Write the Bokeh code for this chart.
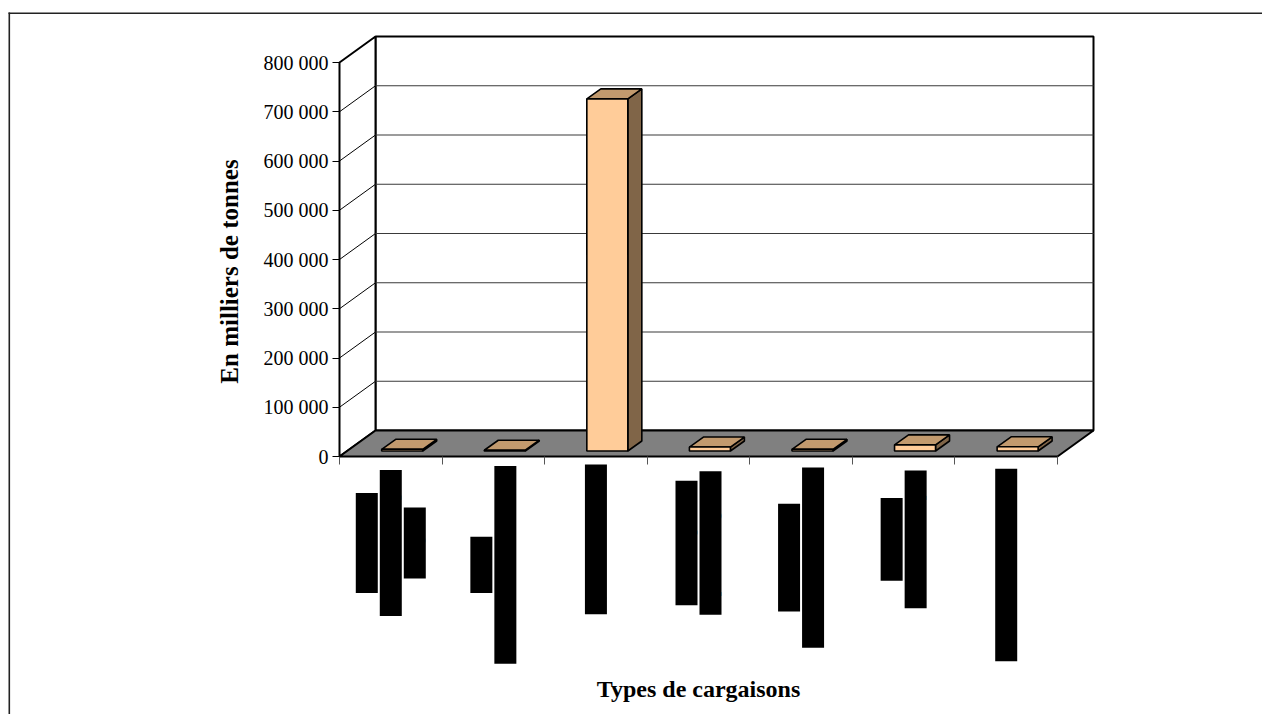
import math
from bokeh.plotting import figure
from bokeh.models import Range1d, LinearAxis, FixedTicker, Label, ColumnDataSource
from bokeh.core.properties import value
from bokeh.embed import file_html
from bokeh.resources import INLINE

# ---------------- data ----------------
categories = [
    ["Produits de la", "industries chimiques", "et engrais"],
    ["Colis et", "marchandises en conteneurs"],
    ["Hydrocarbures bruts"],
    ["Denrées agricoles", "et produits végétaux"],
    ["Automobiles et", "équipements de transport"],
    ["Minerais et", "déchets métalliques"],
    ["Matériaux de constructions"],
]
tonnage = [3500, 1500, 715000, 8000, 3500, 12500, 8500]
y_ticks = [0, 100000, 200000, 300000, 400000, 500000, 600000, 700000, 800000]
y_title = "En milliers de tonnes"
x_title = "Types de cargaisons"

# ---------------- layout constants (page pixels) ----------------
W, H = 1262, 714
PAGE_OFF = 0
X0_PAGE, XN_PAGE = 339.0, 1057.0      # category axis start / end
Y0_PAGE, YTOP_PAGE = 456.0, 62.0      # value 0 / value 800 000
N = len(categories)
YMAX = y_ticks[-1]
pxx = (XN_PAGE - X0_PAGE) / N          # pixels per category unit
upy = YMAX / (Y0_PAGE - YTOP_PAGE)     # value units per pixel

def dx_px(px):
    return px / pxx

def dy_px(px):
    return px * upy

def x_page(px):
    return (px - X0_PAGE) / pxx

def y_page(py):
    return (Y0_PAGE - py) * upy

p = figure(width=W, height=H, output_backend="svg", toolbar_location=None,
           x_range=Range1d(x_page(PAGE_OFF), x_page(PAGE_OFF + W)),
           y_range=Range1d(y_page(PAGE_OFF + H), y_page(PAGE_OFF)),
           x_axis_location=None, y_axis_location=None,
           min_border=0, outline_line_color=None)
p.grid.visible = False
p.background_fill_color = "white"
p.border_fill_color = "white"

# page border (top and left edges)
p.segment(x0=[x_page(8.8), x_page(8.0)], y0=[y_page(12.0), y_page(12.7)],
          x1=[x_page(8.8), x_page(W)], y1=[y_page(H), y_page(12.7)],
          line_color="#222222", line_width=1.6)

# depth of the 3D box
DX = dx_px(36)
DY = dy_px(26)

# back wall
p.patch([DX, N + DX, N + DX, DX], [DY, DY, YMAX + DY, YMAX + DY],
        fill_color="white", line_color="black", line_width=2)
# side wall
p.patch([0, DX, DX, 0], [0, DY, YMAX + DY, YMAX],
        fill_color="white", line_color="black", line_width=2)
# gridlines
inner = y_ticks[1:-1]
p.multi_line([[0, DX] for v in inner], [[v, v + DY] for v in inner],
             line_color="black", line_width=1)
p.multi_line([[DX, N + DX] for v in inner], [[v + DY, v + DY] for v in inner],
             line_color="#3a3a3a", line_width=1.2)
# floor
p.patch([0, N, N + DX, DX], [0, 0, DY, DY],
        fill_color="#808080", line_color="black", line_width=2)

# bars
BW = dx_px(41)
BOFF = dx_px(11.4)
FY = dy_px(5.5)
BDX = dx_px(14)
BDY = dy_px(10)
fx, fy, tx, ty, sx, sy = [], [], [], [], [], []
for i, v in enumerate(tonnage):
    x0 = i + 0.5 + BOFF - BW / 2
    x1 = x0 + BW
    y0 = FY
    y1 = FY + v
    fx.append([x0, x1, x1, x0]); fy.append([y0, y0, y1, y1])
    tx.append([x0, x1, x1 + BDX, x0 + BDX]); ty.append([y1, y1, y1 + BDY, y1 + BDY])
    sx.append([x1, x1 + BDX, x1 + BDX, x1]); sy.append([y0, y0 + BDY, y1 + BDY, y1])
p.patches(sx, sy, fill_color="#806548", line_color="black", line_width=1.6)
p.patches(tx, ty, fill_color="#C29A6E", line_color="black", line_width=1.6)
p.patches(fx, fy, fill_color="#FFCC99", line_color="black", line_width=1.6)

# axes
yax = LinearAxis(fixed_location=0, bounds=(0, YMAX),
                 ticker=FixedTicker(ticks=y_ticks),
                 major_label_overrides={v: f"{v:,}".replace(",", " ") for v in y_ticks},
                 major_label_text_font="Liberation Serif",
                 major_label_text_font_size="20px",
                 major_label_text_color="black",
                 major_label_standoff=4,
                 major_tick_out=7, major_tick_in=0, minor_tick_out=0, minor_tick_in=0,
                 axis_line_color="black", axis_line_width=1,
                 major_tick_line_color="black")
p.add_layout(yax, "left")

xax = LinearAxis(fixed_location=0, bounds=(0, N),
                 ticker=FixedTicker(ticks=list(range(N + 1))),
                 major_label_overrides={i: "" for i in range(N + 1)},
                 major_label_text_font_size="1px",
                 major_tick_out=8, major_tick_in=0, minor_tick_out=0, minor_tick_in=0,
                 axis_line_color="black", axis_line_width=1,
                 major_tick_line_color="#555555")
p.add_layout(xax, "below")

# category labels (rendered as in the source: rotated lines on black boxes)
CH = 7.3      # estimated px per character
PITCH = 24.0  # px between lines
lx, ly, lt = [], [], []
for i, lines in enumerate(categories):
    n = len(lines)
    lmax = max(len(s) for s in lines) * CH + 5
    cy = y_page(Y0_PAGE + 11 + lmax / 2)
    for j, s in enumerate(lines):
        lx.append(i + 0.5 + dx_px((j - (n - 1) / 2) * PITCH))
        ly.append(cy)
        lt.append(s)
src = ColumnDataSource(dict(x=lx, y=ly, text=lt))
p.text(x="x", y="y", text="text", source=src, angle=math.pi / 2,
       text_align="center", text_baseline="middle",
       text_font=value("Liberation Serif"), text_font_style="bold",
       text_font_size="16px", text_color="black",
       background_fill_color="black",
       padding=dict(left=2, right=3, top=3, bottom=2))

# titles
p.add_layout(Label(x=x_page(229), y=YMAX / 2 + dy_px(-12), text=y_title, angle=math.pi / 2,
                   text_align="center", text_baseline="middle",
                   text_font="Liberation Serif", text_font_style="bold",
                   text_font_size="25px", text_color="black"))
p.add_layout(Label(x=N / 2, y=y_page(688), text=x_title,
                   text_align="center", text_baseline="middle",
                   text_font="Liberation Serif", text_font_style="bold",
                   text_font_size="24px", text_color="black"))

open("out.html", "w").write(file_html(p, INLINE))
